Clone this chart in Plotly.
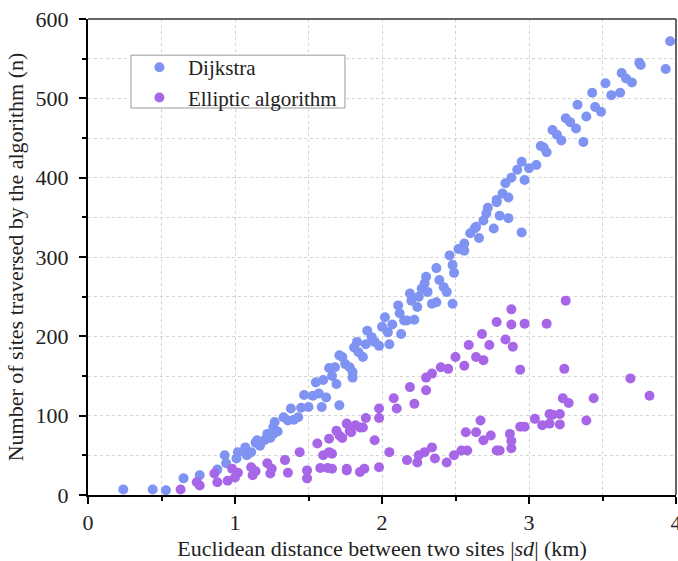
import plotly.graph_objects as go

# Dijkstra data (distance km, sites traversed)
dij_x = [0.24,0.44,0.53,0.65,0.76,0.88,0.93,0.94,1.01,1.02,1.07,1.08,1.11,1.14,1.15,1.17,1.20,1.22,1.24,1.26,1.27,1.26,1.29,
         1.33,1.36,1.38,1.40,1.43,1.45,1.47,1.50,1.53,1.55,1.57,1.59,1.62,1.60,1.64,1.66,1.69,1.68,1.71,1.71,1.73,1.75,1.78,
         1.80,1.80,1.81,1.83,1.84,1.87,1.89,1.90,1.93,1.95,1.98,2.00,2.02,2.04,2.05,2.07,2.11,2.12,2.13,2.15,2.17,2.19,2.20,
         2.22,2.24,2.25,2.27,2.29,2.30,2.31,2.34,2.37,2.37,2.39,2.42,2.44,2.46,2.48,2.48,2.49,2.52,2.56,2.56,2.60,2.63,2.64,
         2.66,2.69,2.71,2.72,2.76,2.78,2.78,2.80,2.82,2.84,2.86,2.86,2.88,2.92,2.95,2.95,2.97,3.00,3.05,3.08,3.10,3.12,3.16,
         3.19,3.22,3.25,3.28,3.32,3.33,3.37,3.39,3.43,3.45,3.49,3.52,3.56,3.62,3.63,3.66,3.70,3.75,3.76,3.93,3.96]
dij_y = [7,7,6,21,25,32,50,40,46,54,60,50,54,66,69,62,69,77,72,85,92,77,80,
         98,94,109,95,98,110,126,111,125,142,128,111,123,145,160,150,140,161,113,176,174,165,161,
         148,155,186,193,180,174,190,207,199,193,188,212,224,205,190,215,239,229,203,220,220,254,245,
         221,237,250,260,267,275,256,241,286,243,271,262,256,302,290,241,280,310,317,308,330,336,338,
         324,346,355,362,336,372,369,352,380,393,375,349,400,410,420,331,397,412,416,440,438,432,460,
         454,447,475,470,462,492,445,477,507,489,483,519,504,507,532,525,520,545,542,537,572]

# Elliptic algorithm data
ell_x = [0.63,0.74,0.76,0.86,0.88,0.95,0.98,1.00,1.02,1.11,1.12,1.14,1.22,1.24,1.25,1.34,1.36,1.44,1.49,1.49,1.56,1.58,
         1.60,1.63,1.64,1.66,1.64,1.69,1.71,1.73,1.76,1.78,1.79,1.82,1.85,1.87,1.89,1.66,1.76,1.76,1.85,1.88,1.98,1.95,
         1.98,1.98,2.05,2.08,2.10,2.17,2.19,2.22,2.24,2.25,2.29,2.30,2.30,2.34,2.34,2.36,2.40,2.44,2.45,2.49,2.50,2.54,
         2.56,2.57,2.58,2.59,2.64,2.64,2.67,2.68,2.69,2.69,2.73,2.74,2.78,2.78,2.80,2.84,2.87,2.88,2.88,2.88,2.88,2.89,
         2.94,2.94,2.97,2.97,3.04,3.09,3.12,3.14,3.14,3.16,3.21,3.21,3.23,3.24,3.25,3.27,3.39,3.44,3.69,3.82]
ell_y = [7,16,12,27,16,18,33,22,28,35,25,30,40,27,33,44,28,54,31,21,65,34,
         50,34,54,52,71,81,75,72,90,81,79,88,85,85,97,33,31,33,29,33,35,69,
         97,109,54,122,109,44,136,115,41,50,54,132,148,153,60,46,161,41,159,50,174,56,
         163,79,56,189,79,174,94,203,170,69,189,75,218,56,56,196,77,234,215,68,59,187,
         158,86,216,86,96,88,216,102,90,101,102,89,122,159,245,116,94,122,147,125]

x_ticks = [0, 1, 2, 3, 4]
y_ticks = [0, 100, 200, 300, 400, 500, 600]

FONT = "Liberation Serif"

fig = go.Figure()
fig.add_trace(go.Scatter(x=dij_x, y=dij_y, mode="markers", name="Dijkstra",
                         marker=dict(color="#7F93F2", size=10, line=dict(width=0))))
fig.add_trace(go.Scatter(x=ell_x, y=ell_y, mode="markers", name="Elliptic algorithm",
                         marker=dict(color="#A766E8", size=10, line=dict(width=0))))

axis_common = dict(
    showline=True, linecolor="black", linewidth=2,
    ticks="outside", ticklen=7, tickwidth=2, tickcolor="black",
    showgrid=True, gridcolor="#d4d4d4", griddash="dot", gridwidth=1,
    zeroline=False, ticklabeloverflow="allow", automargin=False,
    tickfont=dict(family=FONT, size=22, color="#222"),
)

fig.update_xaxes(range=[0, 4], tickvals=x_ticks, **axis_common,
                 minor=dict(dtick=0.5, ticks="outside", ticklen=4, tickwidth=2, tickcolor="black",
                            showgrid=True, gridcolor="#d4d4d4", griddash="dot"),
                 title=dict(text="Euclidean distance between two sites |<i>sd</i>| (km)",
                            font=dict(family=FONT, size=22, color="#222"), standoff=6))
fig.update_yaxes(range=[0, 600], tickvals=y_ticks, **axis_common, ticklabelstandoff=6,
                 minor=dict(dtick=50, ticks="outside", ticklen=4, tickwidth=2, tickcolor="black",
                            showgrid=True, gridcolor="#d4d4d4", griddash="dot"),
                 title=dict(text="Number of sites traversed by the algorithm (n)",
                            font=dict(family=FONT, size=22, color="#222"), standoff=6))

fig.add_shape(type="line", xref="paper", yref="paper", x0=0, x1=1, y0=1, y1=1,
              line=dict(color="#333", width=1.5))
fig.add_shape(type="line", xref="paper", yref="paper", x0=1, x1=1, y0=0, y1=1,
              line=dict(color="#333", width=1.5))
# legend frame
fig.add_shape(type="rect", xref="paper", yref="paper", x0=0.0731, x1=0.437, y0=0.813, y1=0.924,
              fillcolor="white", line=dict(color="#999", width=1), layer="above")

fig.update_layout(
    width=678, height=561,
    margin=dict(l=88, r=2, t=19, b=66),
    plot_bgcolor="white", paper_bgcolor="white",
    font=dict(family=FONT, color="#222"),
    legend=dict(x=0.073, y=0.941, xanchor="left", yanchor="top", itemwidth=47,
                bgcolor="rgba(0,0,0,0)", borderwidth=0,
                font=dict(family=FONT, size=21, color="#222")),
    showlegend=True,
)

fig.write_html("out.html")
